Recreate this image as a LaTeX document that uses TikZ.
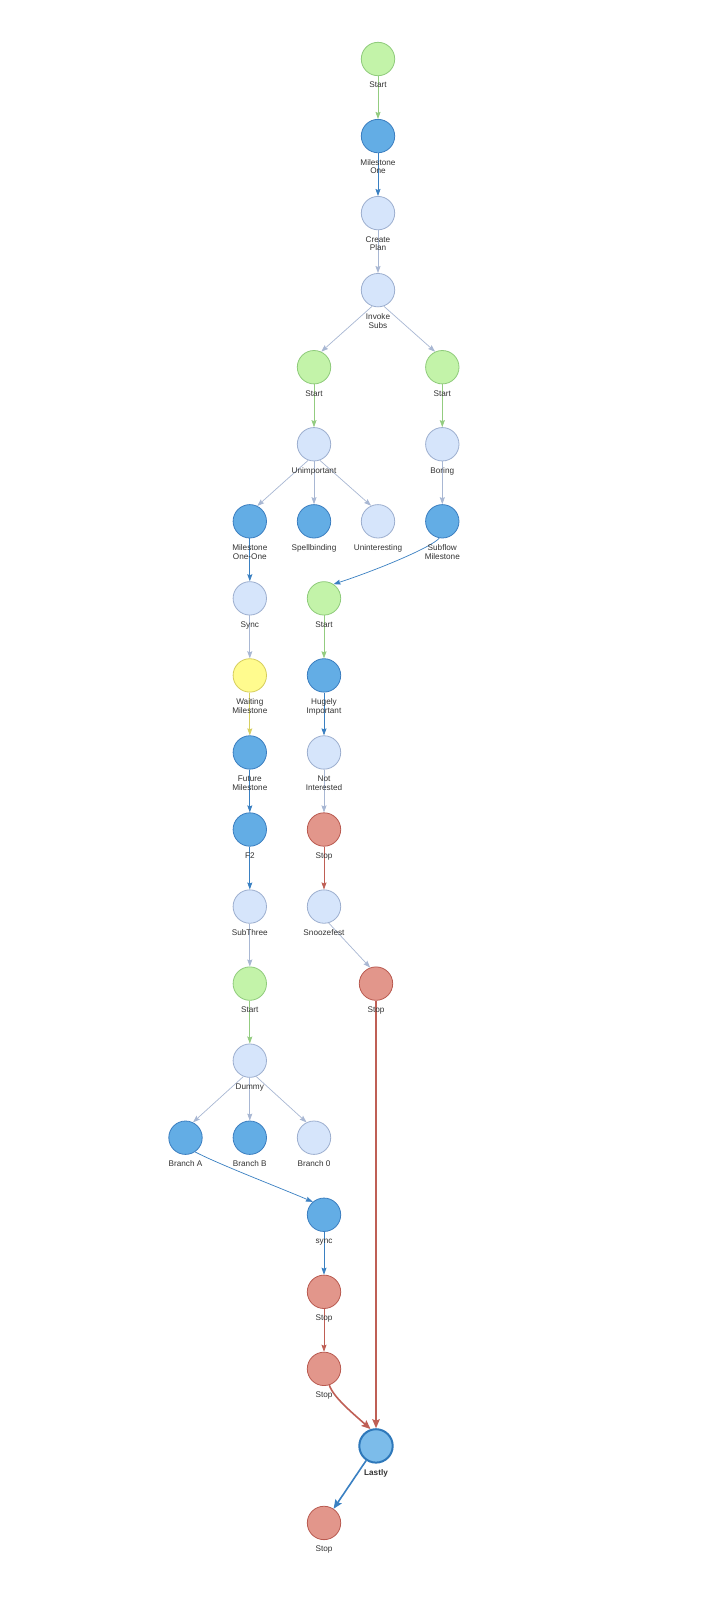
\documentclass[tikz,border=0pt]{standalone}
\usepackage{fontspec}
\setmainfont{Liberation Sans}
\usetikzlibrary{arrows.meta}
\definecolor{cgrF}{HTML}{C3F3A9}\definecolor{cgrS}{HTML}{8FCB7B}
\definecolor{cblF}{HTML}{63ADE5}\definecolor{cblS}{HTML}{3B7EC0}
\definecolor{cltF}{HTML}{D6E5FB}\definecolor{cltS}{HTML}{9DAFCF}
\definecolor{cyeF}{HTML}{FFFB8E}\definecolor{cyeS}{HTML}{D5CD5C}
\definecolor{crdF}{HTML}{E2968B}\definecolor{crdS}{HTML}{B95A50}
\definecolor{claF}{HTML}{7CBCEA}\definecolor{claS}{HTML}{2E78BA}
\definecolor{egr}{HTML}{93CC80}\definecolor{ebl}{HTML}{3A80C2}
\definecolor{elt}{HTML}{A8B7D3}\definecolor{eye}{HTML}{D6CF60}
\definecolor{erd}{HTML}{BF5F55}\definecolor{labc}{HTML}{333333}
\tikzset{
 nd/.style={circle, minimum size=33.4pt, inner sep=0pt, line width=0.8pt},
 gr/.style={nd, draw=cgrS, fill=cgrF},
 bl/.style={nd, draw=cblS, fill=cblF},
 lt/.style={nd, draw=cltS, fill=cltF},
 ye/.style={nd, draw=cyeS, fill=cyeF},
 rd/.style={nd, draw=crdS, fill=crdF},
 lastn/.style={nd, line width=2pt, draw=claS, fill=claF},
 lab/.style={anchor=north, inner sep=0pt, font=\fontsize{8.2}{8.8}\selectfont, text=labc, align=center, yshift=-5.9pt},
 ed/.style={line width=0.7pt, -{Stealth[length=7pt,width=5pt,inset=1pt]}},
 edth/.style={line width=1.6pt, -{Stealth[length=9pt,width=7.5pt,inset=1.5pt]}},
}
\begin{document}
\begin{tikzpicture}[x=1pt,y=-1pt]
\useasboundingbox[fill=white] (0,0) rectangle (705,1599);
% nodes
\node[gr] (s0) at (378,59) {};
\node[bl] (m1) at (378,136.05) {};
\node[lt] (cp) at (378,213.1) {};
\node[lt] (is) at (378,290.15) {};
\node[gr] (sa) at (314,367.2) {};
\node[gr] (sb) at (442.3,367.2) {};
\node[lt] (un) at (314,444.25) {};
\node[lt] (bo) at (442.3,444.25) {};
\node[bl] (mo) at (249.8,521.3) {};
\node[bl] (sp) at (314,521.3) {};
\node[lt] (ui) at (378,521.3) {};
\node[bl] (sm) at (442.3,521.3) {};
\node[lt] (sy) at (249.8,598.35) {};
\node[gr] (sc) at (324,598.35) {};
\node[ye] (wm) at (249.8,675.4) {};
\node[bl] (hi) at (324,675.4) {};
\node[bl] (fm) at (249.8,752.45) {};
\node[lt] (ni) at (324,752.45) {};
\node[bl] (f2) at (249.8,829.5) {};
\node[rd] (st1) at (324,829.5) {};
\node[lt] (s3) at (249.8,906.55) {};
\node[lt] (sz) at (324,906.55) {};
\node[gr] (sd) at (249.8,983.6) {};
\node[rd] (st2) at (376,983.6) {};
\node[lt] (du) at (249.8,1060.65) {};
\node[bl] (ba) at (185.5,1137.7) {};
\node[bl] (bb) at (249.8,1137.7) {};
\node[lt] (b0) at (314,1137.7) {};
\node[bl] (sk) at (324,1214.75) {};
\node[rd] (st3) at (324,1291.8) {};
\node[rd] (st4) at (324,1368.85) {};
\node[lastn] (la) at (376,1445.9) {};
\node[rd] (st5) at (324,1522.95) {};
% edges
\draw[ed,egr] (s0) -- (m1);
\draw[ed,ebl] (m1) -- (cp);
\draw[ed,elt] (cp) -- (is);
\draw[ed,elt] (is.-110) -- (sa.65);
\draw[ed,elt] (is.-70) -- (sb.115);
\draw[ed,egr] (sa) -- (un);
\draw[ed,egr] (sb) -- (bo);
\draw[ed,elt] (un.-110) -- (mo.64);
\draw[ed,elt] (un) -- (sp);
\draw[ed,elt] (un.-70) -- (ui.114);
\draw[ed,elt] (bo) -- (sm);
\draw[ed,ebl] (mo) -- (sy);
\draw[ed,ebl] (sm.-100) .. controls +(-9,10) and +(40,-13) .. (sc.56);
\draw[ed,elt] (sy) -- (wm);
\draw[ed,eye] (wm) -- (fm);
\draw[ed,ebl] (fm) -- (f2);
\draw[ed,ebl] (f2) -- (s3);
\draw[ed,elt] (s3) -- (sd);
\draw[ed,egr] (sd) -- (du);
\draw[ed,elt] (du.-112) -- (ba.64);
\draw[ed,elt] (du) -- (bb);
\draw[ed,elt] (du.-68) -- (b0.116);
\draw[ed,egr] (sc) -- (hi);
\draw[ed,ebl] (hi) -- (ni);
\draw[ed,elt] (ni) -- (st1);
\draw[ed,erd] (st1) -- (sz);
\draw[ed,elt] (sz.-74) -- (st2.110);
\draw[ed,ebl] (ba.-56) .. controls +(25,13) and +(-35,-15) .. (sk.131);
\draw[ed,ebl] (sk) -- (st3);
\draw[ed,erd] (st3) -- (st4);
\draw[edth,erd] (st4.-72) .. controls +(4,12) and +(-18,-16) .. (la.108);
\draw[edth,erd] (st2) -- (la);
\draw[edth,ebl] (la) -- (st5);
% labels
\node[lab] (ls0) at (s0.south) {\vphantom{A}Start};
\node[lab] (lm1) at (m1.south) {\vphantom{A}Milestone\\One};
\node[lab] (lcp) at (cp.south) {\vphantom{A}Create\\Plan};
\node[lab] (lis) at (is.south) {\vphantom{A}Invoke\\Subs};
\node[lab] (lsa) at (sa.south) {\vphantom{A}Start};
\node[lab] (lsb) at (sb.south) {\vphantom{A}Start};
\node[lab] (lun) at (un.south) {\vphantom{A}Unimportant};
\node[lab] (lbo) at (bo.south) {\vphantom{A}Boring};
\node[lab] (lmo) at (mo.south) {\vphantom{A}Milestone\\One-One};
\node[lab] (lsp) at (sp.south) {\vphantom{A}Spellbinding};
\node[lab] (lui) at (ui.south) {\vphantom{A}Uninteresting};
\node[lab] (lsm) at (sm.south) {\vphantom{A}Subflow\\Milestone};
\node[lab] (lsy) at (sy.south) {\vphantom{A}Sync};
\node[lab] (lsc) at (sc.south) {\vphantom{A}Start};
\node[lab] (lwm) at (wm.south) {\vphantom{A}Waiting\\Milestone};
\node[lab] (lhi) at (hi.south) {\vphantom{A}Hugely\\Important};
\node[lab] (lfm) at (fm.south) {\vphantom{A}Future\\Milestone};
\node[lab] (lni) at (ni.south) {\vphantom{A}Not\\Interested};
\node[lab] (lf2) at (f2.south) {\vphantom{A}F2};
\node[lab] (lst1) at (st1.south) {\vphantom{A}Stop};
\node[lab] (ls3) at (s3.south) {\vphantom{A}SubThree};
\node[lab] (lsz) at (sz.south) {\vphantom{A}Snoozefest};
\node[lab] (lsd) at (sd.south) {\vphantom{A}Start};
\node[lab] (lst2) at (st2.south) {\vphantom{A}Stop};
\node[lab] (ldu) at (du.south) {\vphantom{A}Dummy};
\node[lab] (lba) at (ba.south) {\vphantom{A}Branch A};
\node[lab] (lbb) at (bb.south) {\vphantom{A}Branch B};
\node[lab] (lb0) at (b0.south) {\vphantom{A}Branch 0};
\node[lab] (lsk) at (sk.south) {\vphantom{A}sync};
\node[lab] (lst3) at (st3.south) {\vphantom{A}Stop};
\node[lab] (lst4) at (st4.south) {\vphantom{A}Stop};
\node[lab,font=\fontsize{8.2}{8.8}\selectfont\bfseries] (lla) at (la.south) {\vphantom{A}Lastly};
\node[lab] (lst5) at (st5.south) {\vphantom{A}Stop};
\end{tikzpicture}
\end{document}
